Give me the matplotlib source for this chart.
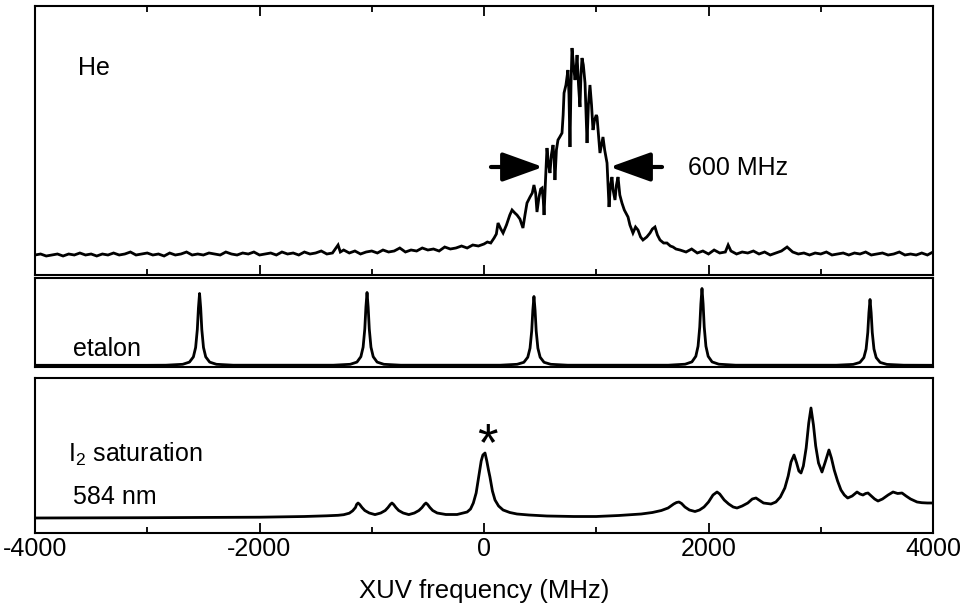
import matplotlib
matplotlib.use('Agg')
import matplotlib.pyplot as plt
from matplotlib.ticker import MultipleLocator

plt.rcParams['font.family'] = ['Liberation Sans', 'DejaVu Sans']
plt.rcParams['mathtext.fontset'] = 'custom'
plt.rcParams['mathtext.rm'] = 'Liberation Sans'
plt.rcParams['mathtext.default'] = 'regular'

# ---------------- data ----------------
# He signal (arbitrary units, height above baseline) vs XUV frequency (MHz)
he_freq = [-4000, -3950, -3900, -3850, -3800, -3750, -3700, -3650, -3600, -3550,
           -3500, -3450, -3400, -3350, -3300, -3250, -3200, -3150, -3100, -3050,
           -3000, -2950, -2900, -2850, -2800, -2750, -2700, -2650, -2600, -2550,
           -2500, -2450, -2400, -2350, -2300, -2250, -2200, -2150, -2100, -2050,
           -2000, -1950, -1900, -1850, -1800, -1750, -1700, -1650, -1600, -1550,
           -1500, -1450, -1400, -1350, -1300, -1280, -1250, -1200, -1150, -1100,
           -1050, -1000, -950, -900, -850, -800, -750, -700, -650, -600,
           -550, -500, -450, -400, -350, -300, -250, -200, -150, -100,
           -50, 0, 30, 60, 90, 110, 125, 150, 170, 200,
           230, 250, 275, 294, 320, 347, 365, 383, 410, 430,
           445, 460, 472, 490, 505, 517, 528, 535, 548, 561,
           575, 588, 600, 615, 625, 632, 645, 659, 675, 695,
           705, 713, 730, 748, 757, 766, 775, 784, 797, 811,
           820, 829, 842, 855, 864, 873, 885, 900, 910, 918,
           930, 944, 958, 971, 985, 1000, 1007, 1020, 1033, 1046,
           1060, 1075, 1096, 1105, 1114, 1125, 1140, 1150, 1167, 1180,
           1194, 1210, 1229, 1250, 1283, 1300, 1327, 1350, 1372, 1395,
           1416, 1450, 1479, 1500, 1523, 1545, 1568, 1600, 1630, 1660,
           1684, 1710, 1746, 1800, 1850, 1900, 1950, 2000, 2050, 2100,
           2150, 2175, 2200, 2250, 2300, 2350, 2400, 2450, 2500, 2550,
           2600, 2650, 2700, 2750, 2800, 2850, 2900, 2950, 3000, 3050,
           3100, 3150, 3200, 3250, 3300, 3350, 3400, 3450, 3500, 3550,
           3600, 3650, 3700, 3750, 3800, 3850, 3900, 3950, 4000]
he_signal = [0, 1, -1, 0, 1, -1, 1, 0, 2, 0,
             1, -1, 1, 0, 2, 0, 1, 3, 0, 1,
             2, 0, 1, -1, 2, 0, 1, 3, 0, 1,
             0, 2, 1, 0, 3, 1, 0, 2, 1, 3,
             0, 1, 2, 0, 3, 1, 2, 0, 3, 1,
             2, 4, 1, 2, 10, 3, 5, 2, 4, 1,
             3, 4, 2, 5, 3, 4, 7, 3, 5, 4,
             7, 5, 6, 4, 8, 6, 7, 9, 7, 10,
             9, 11, 13, 12, 17, 21, 32, 26, 22, 30,
             40, 45, 42, 40, 36, 27, 40, 52, 58, 62,
             70, 62, 43, 58, 66, 67, 55, 40, 75, 107,
             90, 82, 100, 110, 95, 75, 105, 115, 118, 122,
             140, 162, 170, 185, 160, 108, 170, 207, 190, 175,
             185, 200, 170, 148, 180, 197, 190, 172, 140, 112,
             150, 170, 150, 125, 135, 140, 138, 120, 102, 110,
             118, 105, 92, 70, 48, 68, 78, 65, 55, 70,
             78, 60, 52, 45, 38, 30, 22, 28, 25, 18,
             15, 18, 22, 26, 28, 20, 15, 12, 12, 9,
             8, 6, 5, 3, 6, 2, 4, 1, 5, 2,
             3, 10, 4, 1, 3, 2, 4, 1, 3, 0,
             2, 4, 8, 3, 1, 2, 0, 2, 1, 3,
             0, 1, 2, 0, 2, 1, 3, 0, 1, 2,
             0, 1, 3, 0, 1, 0, 2, 0, 3]

# Etalon transmission (arbitrary units)
etalon_freq = [-4000, -3000,
               -2834, -2684, -2624, -2589, -2569, -2554, -2544, -2534, -2524, -2514, -2499, -2479, -2444, -2384, -2234,
               -1342, -1192, -1132, -1097, -1077, -1062, -1052, -1042, -1032, -1022, -1007, -987, -952, -892, -742,
               145, 295, 355, 390, 410, 425, 435, 445, 455, 465, 480, 500, 535, 595, 745,
               1642, 1792, 1852, 1887, 1907, 1922, 1932, 1942, 1952, 1962, 1977, 1997, 2032, 2092, 2242,
               3139, 3289, 3349, 3384, 3404, 3419, 3429, 3439, 3449, 3459, 3474, 3494, 3529, 3589, 3739,
               4000]
etalon_signal = [0.2, 0.2,
                 0.3, 1.2, 3.4, 8.6, 18, 36, 57.6, 72, 57.6, 36, 18, 8.6, 3.4, 1.2, 0.3,
                 0.3, 1.2, 3.4, 8.8, 18.3, 36.5, 58.4, 73, 58.4, 36.5, 18.3, 8.8, 3.4, 1.2, 0.3,
                 0.3, 1.2, 3.2, 8.3, 17.3, 34.5, 55.2, 69, 55.2, 34.5, 17.3, 8.3, 3.2, 1.2, 0.3,
                 0.3, 1.3, 3.6, 9.2, 19.3, 38.5, 61.6, 77, 61.6, 38.5, 19.3, 9.2, 3.6, 1.3, 0.3,
                 0.3, 1.1, 3.1, 7.9, 16.5, 33, 52.8, 66, 52.8, 33, 16.5, 7.9, 3.1, 1.1, 0.3,
                 0.2]

# I2 saturation spectrum at 584 nm (arbitrary units)
i2_freq = [-4000, -3000, -2000, -1600, -1400, -1300, -1250, -1200, -1170, -1145, -1135, -1122,
           -1107, -1087, -1062, -1022, -971, -920, -880, -855, -835, -820, -805, -785, -760,
           -720, -670, -620, -580, -552, -532, -517, -502, -482, -457, -417, -340, -240, -150,
           -120, -95, -70, -45, -25, -10, 9, 25, 40, 53, 75, 98, 130, 170, 230, 294, 400, 561,
           800, 1000, 1200, 1400, 1500, 1580, 1640, 1690, 1715, 1737, 1760, 1790, 1830, 1880,
           1920, 1960, 2000, 2040, 2076, 2100, 2140, 2180, 2220, 2254, 2300, 2350, 2390, 2423,
           2450, 2490, 2557, 2600, 2640, 2680, 2710, 2735, 2762, 2785, 2805, 2824, 2845, 2870,
           2893, 2913, 2935, 2955, 2980, 3011, 3040, 3073, 3095, 3120, 3150, 3180, 3210, 3240,
           3280, 3323, 3350, 3376, 3400, 3421, 3450, 3480, 3510, 3550, 3600, 3644, 3685, 3724,
           3760, 3800, 3858, 3900, 3950, 4000]
i2_signal = [0, 0.3, 0.8, 1.5, 2.2, 2.7, 3.3, 4.8, 7.2, 10.5, 13.5, 15,
             13.5, 10.5, 7.5, 5, 3.4, 5, 7.5, 10.5, 13.5, 15, 13.5, 10.5, 7.5,
             5, 3.4, 5, 7.5, 10.5, 13.5, 15, 13.5, 10.5, 7.5, 5, 3.5, 3.5, 6,
             9, 15, 25, 43, 57, 63, 65, 57, 48, 41, 27, 18, 12, 8, 5.5, 4, 3, 2,
             1.5, 1.5, 2.5, 4, 5.5, 7.5, 10, 14, 15.5, 16, 14.5, 11, 8, 6.5,
             8, 11, 16, 23, 26, 24, 18, 14, 11, 10, 12, 15, 19, 20,
             18, 15, 14, 16, 21, 30, 42, 56, 63, 55, 47, 45, 52, 70,
             95, 110, 93, 72, 55, 46, 56, 68, 60, 48, 37, 28, 23, 20,
             22, 26, 24, 23, 24.5, 25, 22, 19, 17, 19, 23, 26, 24.5, 25,
             22, 19, 16, 15.3, 15, 15]

x_ticks = [-4000, -2000, 0, 2000, 4000]
x_ticklabels = ['-4000', '-2000', '0', '2000', '4000']

# ---------------- figure ----------------
W, H = 971, 605
fig = plt.figure(figsize=(W / 100, H / 100), dpi=100)


def box(left, top, right, bottom):
    return [left / W, 1 - bottom / H, (right - left) / W, (bottom - top) / H]


ax_he = fig.add_axes(box(35, 6, 933, 275))
ax_et = fig.add_axes(box(35, 278, 933, 367))
ax_i2 = fig.add_axes(box(35, 378, 933, 533))

line_kw = dict(color='black', lw=2.0, solid_joinstyle='round')
ax_he.plot(he_freq, he_signal, color='black', lw=2.0, solid_joinstyle='miter')
ax_et.plot(etalon_freq, etalon_signal, **line_kw)
ax_i2.plot(i2_freq, i2_signal, **line_kw)

ax_he.set_ylim(-20, 249)
ax_et.set_ylim(-1.5, 87.5)
ax_i2.set_ylim(-15, 140)

for ax in (ax_he, ax_et, ax_i2):
    ax.set_xlim(-4000, 4000)
    ax.set_yticks([])
    for sp in ax.spines.values():
        sp.set_linewidth(1.5)
    ax.xaxis.set_major_locator(MultipleLocator(2000))
    ax.xaxis.set_minor_locator(MultipleLocator(1000))

ax_he.tick_params(axis='x', which='both', direction='in', top=True, bottom=True,
                  labelbottom=False)
ax_he.tick_params(axis='x', which='major', length=7, width=1.3)
ax_he.tick_params(axis='x', which='minor', length=4, width=1.3)

ax_et.tick_params(axis='x', which='both', bottom=False, top=False, labelbottom=False)

ax_i2.tick_params(axis='x', which='both', direction='in', top=False, bottom=True)
ax_i2.tick_params(axis='x', which='major', length=7, width=1.3, labelsize=18, pad=3)
ax_i2.tick_params(axis='x', which='minor', length=4, width=1.3)
ax_i2.set_xticks(x_ticks)
ax_i2.set_xticklabels(x_ticklabels)

# FWHM arrows on He peak
arrow_kw = dict(arrowstyle='-|>,head_length=1.25,head_width=0.45', lw=3,
                color='black', shrinkA=0, shrinkB=0, mutation_scale=20)
ax_he.annotate('', xy=(526, 88), xytext=(62, 88), arrowprops=arrow_kw)
ax_he.annotate('', xy=(1122, 88), xytext=(1586, 88), arrowprops=arrow_kw)


def ftext(px, py, s, **kw):
    fig.text(px / W, 1 - py / H, s, **kw)


ftext(78, 75, 'He', fontsize=18, va='baseline', ha='left')
ftext(688, 175, '600 MHz', fontsize=18, va='baseline', ha='left')
ftext(73, 356, 'etalon', fontsize=18, va='baseline', ha='left')
ftext(68, 462, r'I$_2$ saturation', fontsize=18, va='baseline', ha='left')
ftext(73, 504, '584 nm', fontsize=18, va='baseline', ha='left')
ftext(487, 460, '*', fontsize=38, va='baseline', ha='center')
ftext(484, 598, 'XUV frequency (MHz)', fontsize=18.5, va='baseline', ha='center')

fig.savefig('out.png', dpi=100)
